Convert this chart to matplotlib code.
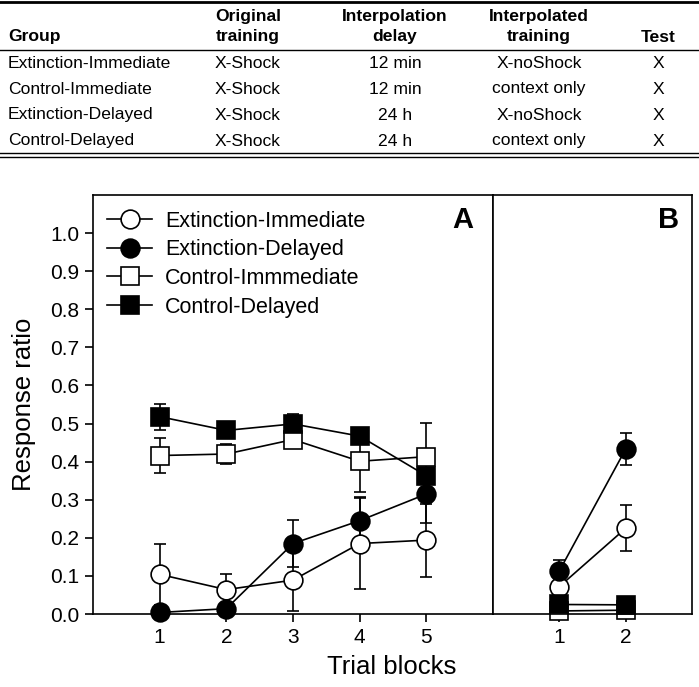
import matplotlib
matplotlib.use("Agg")
import matplotlib.pyplot as plt
from matplotlib.lines import Line2D

plt.rcParams['font.family'] = ['Liberation Sans', 'DejaVu Sans']

# ---- table content ----
table_header1 = ["", "Original", "Interpolation", "Interpolated", ""]
table_header2 = ["Group", "training", "delay", "training", "Test"]
table_rows = [
    ["Extinction-Immediate", "X-Shock", "12 min", "X-noShock", "X"],
    ["Control-Immediate", "X-Shock", "12 min", "context only", "X"],
    ["Extinction-Delayed", "X-Shock", "24 h", "X-noShock", "X"],
    ["Control-Delayed", "X-Shock", "24 h", "context only", "X"],
]

# ---- chart data ----
blocks_A = [1, 2, 3, 4, 5]
blocks_B = [1, 2]
xticks_A = [1, 2, 3, 4, 5]
xticks_B = [1, 2]
yticks = [0.0, 0.1, 0.2, 0.3, 0.4, 0.5, 0.6, 0.7, 0.8, 0.9, 1.0]

series_names = ["Extinction-Immediate", "Extinction-Delayed",
                "Control-Immmediate", "Control-Delayed"]

ei_A = [0.104, 0.064, 0.089, 0.185, 0.194]
ei_A_err = [0.080, 0.041, 0.080, 0.120, 0.096]
ed_A = [0.004, 0.014, 0.185, 0.245, 0.315]
ed_A_err = [0.005, 0.010, 0.062, 0.061, 0.077]
ci_A = [0.416, 0.420, 0.458, 0.401, 0.413]
ci_A_err = [0.047, 0.027, 0.022, 0.080, 0.088]
cd_A = [0.518, 0.482, 0.499, 0.467, 0.363]
cd_A_err = [0.034, 0.010, 0.025, 0.010, 0.040]

ei_B = [0.072, 0.225]
ei_B_err = [0.015, 0.060]
ed_B = [0.113, 0.433]
ed_B_err = [0.030, 0.043]
ci_B = [0.008, 0.010]
ci_B_err = [0.005, 0.005]
cd_B = [0.025, 0.024]
cd_B_err = [0.005, 0.005]

W, H = 699, 687
fig = plt.figure(figsize=(W / 100, H / 100), dpi=100)

def fx(px):
    return px / W

def fy(py):
    return 1 - py / H

# ---- table ----
for y, lw in [(2, 2.0), (49.5, 1.0), (153, 1.0), (157, 1.0)]:
    fig.add_artist(Line2D([0, 1], [fy(y), fy(y)], color='black', lw=lw))

col_x = [8, 248, 395, 539, 658]
col_ha = ['left', 'center', 'center', 'center', 'center']
tfs = 12.6
for i in range(5):
    if table_header1[i]:
        fig.text(fx(col_x[i]), fy(16), table_header1[i], ha=col_ha[i], va='center',
                 fontsize=tfs, fontweight='bold')
    fig.text(fx(col_x[i]), fy(37), table_header2[i], ha=col_ha[i], va='center',
             fontsize=tfs, fontweight='bold')
row_y = [63, 89, 115, 141]
for r, row in enumerate(table_rows):
    for i, cell in enumerate(row):
        fig.text(fx(col_x[i]), fy(row_y[r]), cell, ha=col_ha[i], va='center', fontsize=tfs)

# ---- axes ----
axA = fig.add_axes([fx(93), fy(614), fx(400), 419 / H])
axB = fig.add_axes([fx(493), fy(614), fx(199), 419 / H])

styles = [
    dict(marker='o', mfc='white'),
    dict(marker='o', mfc='black'),
    dict(marker='s', mfc='white'),
    dict(marker='s', mfc='black'),
]
common = dict(color='black', mec='black', ms=13.5, mew=1.2, lw=1.2,
              elinewidth=1.2, capsize=4.5, capthick=1.2, clip_on=False)

dataA = [(ei_A, ei_A_err), (ed_A, ed_A_err), (ci_A, ci_A_err), (cd_A, cd_A_err)]
dataB = [(ei_B, ei_B_err), (ed_B, ed_B_err), (ci_B, ci_B_err), (cd_B, cd_B_err)]

handles = []
for (y, e), st, name in zip(dataA, styles, series_names):
    c = axA.errorbar(blocks_A, y, yerr=e, label=name, **st, **common)
    for art in c.get_children():
        art.set_clip_on(False)
    handles.append(c[0])
for (y, e), st in zip(dataB, styles):
    c = axB.errorbar(blocks_B, y, yerr=e, **st, **common)
    for art in c.get_children():
        art.set_clip_on(False)

for ax in (axA, axB):
    ax.set_ylim(0, 1.1)
    for s in ax.spines.values():
        s.set_linewidth(1.2)
    ax.tick_params(direction='out', length=6, width=1.2, labelsize=15, pad=4)

axA.set_xlim(0, 6)
axB.set_xlim(0, 3)
axA.set_xticks(xticks_A)
axB.set_xticks(xticks_B)
axA.set_yticks(yticks)
axA.set_yticklabels([f"{v:.1f}" for v in yticks])
axB.set_yticks([])
axA.tick_params(top=False, right=False)
axB.tick_params(top=False, right=False, left=False)

axA.set_ylabel("Response ratio", fontsize=18.5, labelpad=10)
fig.text(fx(392), fy(667), "Trial blocks", ha='center', va='center', fontsize=18.5)

axA.text(0.925, 0.94, "A", transform=axA.transAxes, ha='center', va='center',
         fontsize=21, fontweight='bold')
axB.text(0.88, 0.94, "B", transform=axB.transAxes, ha='center', va='center',
         fontsize=21, fontweight='bold')

leg = axA.legend(handles=handles, labels=series_names, loc='upper left',
                 bbox_to_anchor=(0.035, 0.962), frameon=False, fontsize=15.5,
                 handlelength=2.1, handletextpad=0.6, labelspacing=0.35,
                 borderpad=0, borderaxespad=0)

fig.savefig("out.png", dpi=100)
